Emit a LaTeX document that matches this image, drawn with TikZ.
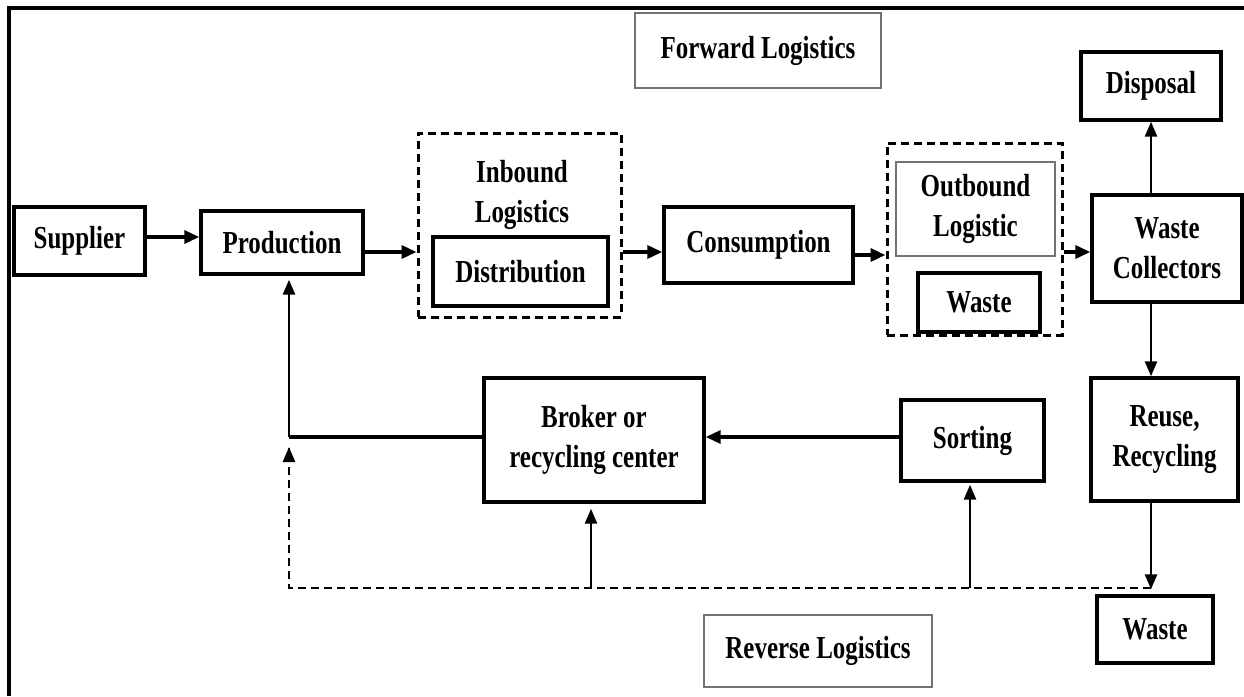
\documentclass[tikz,border=0pt]{standalone}
\usepackage{fontspec}
\setmainfont{Liberation Serif}[FakeStretch=0.78]
\usetikzlibrary{arrows.meta,calc}
\begin{document}
\begin{tikzpicture}[x=1pt,y=-1pt,
  lbl/.style={font=\fontsize{32}{40}\selectfont\bfseries, align=center, inner sep=0pt},
  box/.style={lbl, draw, line width=3.4pt, minimum width=#1},
  gbox/.style={lbl, draw=black!55, line width=2.2pt},
  dbox/.style={draw, line width=3pt, dash pattern=on 8pt off 5pt, inner sep=0pt},
  arr/.style={line width=3.4pt, -{Triangle[length=15pt,width=13pt]}},
  varr/.style={line width=2.6pt, -{Triangle[length=15pt,width=12pt]}},
  darr/.style={line width=2.6pt, dash pattern=on 8pt off 5pt}
]
\useasboundingbox (0,0) rectangle (1244,696);
\draw[line width=3.6pt] (9,696) -- (9,8) -- (1244,8);

% forward part
\node[box, minimum width=131pt, minimum height=68pt] (sup) at (79.5,241) {Supplier};
\node[box, minimum width=162pt, minimum height=63pt] (prod) at (282,242.5) {Production};
\node[dbox, minimum width=203pt, minimum height=184pt] (inb) at (519.5,225) {};
\node[lbl] (inbt) at (522,195) {Inbound\\Logistics};
\node[box, minimum width=175pt, minimum height=69pt] (dist) at (520.5,271.5) {Distribution};
\node[box, minimum width=189pt, minimum height=76pt] (cons) at (758.5,245) {Consumption};
\node[gbox, minimum width=246pt, minimum height=75pt] (fwd) at (758,50.5) {Forward Logistics};
\node[dbox, minimum width=175pt, minimum height=192pt] (outb) at (974.5,239) {};
\node[gbox, minimum width=159pt, minimum height=94pt] (outl) at (975.5,209) {Outbound\\Logistic};
\node[box, minimum width=122pt, minimum height=59pt] (wst1) at (979,302.5) {Waste};
\node[box, minimum width=150pt, minimum height=107pt] (wc) at (1167,248.5) {Waste\\Collectors};
\node[box, minimum width=140pt, minimum height=68pt] (disp) at (1151,86) {Disposal};

% reverse part
\node[box, minimum width=220pt, minimum height=124pt] (brok) at (594,440) {Broker or\\recycling center};
\node[box, minimum width=143pt, minimum height=81pt] (sort) at (972.5,440.5) {Sorting};
\node[box, minimum width=147pt, minimum height=123pt] (reuse) at (1164.5,439.5) {Reuse,\\Recycling};
\node[box, minimum width=116pt, minimum height=67pt] (wst2) at (1155,629.5) {Waste};
\node[gbox, minimum width=228pt, minimum height=72pt] (rev) at (818,651) {Reverse Logistics};

\coordinate (c1) at (289,437);
\coordinate (d1) at (289,588);
\coordinate (d2) at (1151,588);

% forward arrows
\draw[arr] ([yshift=4pt]sup.east) -- ([yshift=4pt]sup.east -| prod.west);
\draw[arr] ([yshift=-9.5pt]prod.east) -- ([yshift=-9.5pt]prod.east -| inb.west);
\draw[arr] ([yshift=-7pt]cons.west -| inb.east) -- ([yshift=-7pt]cons.west);
\draw[arr] ([yshift=-10pt,xshift=-4pt]cons.east) -- ([yshift=-10pt]cons.east -| outb.west);
\draw[arr] ([yshift=-3.5pt]wc.west -| outb.east) -- ([yshift=-3.5pt]wc.west);
\draw[varr] (disp.south |- wc.north) -- (disp.south);
\draw[varr] (disp.south |- wc.south) -- (disp.south |- reuse.north);

% reverse arrows
\draw[arr] (sort.west |- c1) -- (brok.east |- c1);
\draw[line width=3.2pt] (brok.west |- c1) -- (c1);
\draw[varr, shorten >=4pt] (c1) -- (c1 |- prod.south);
\draw[varr, shorten >=5pt] (d2 |- reuse.south) -- (d2 |- wst2.north);
\draw[darr] (d2) -- (d1) -- ([yshift=-11pt]c1);
\draw[varr] ([yshift=-11pt]c1) -- ([yshift=-10pt]c1);
\draw[varr, shorten >=5pt] (d1 -| 591,0) -- (591,0 |- brok.south);
\draw[varr, shorten >=2pt] (d1 -| 970,0) -- (970,0 |- sort.south);
\end{tikzpicture}
\end{document}
